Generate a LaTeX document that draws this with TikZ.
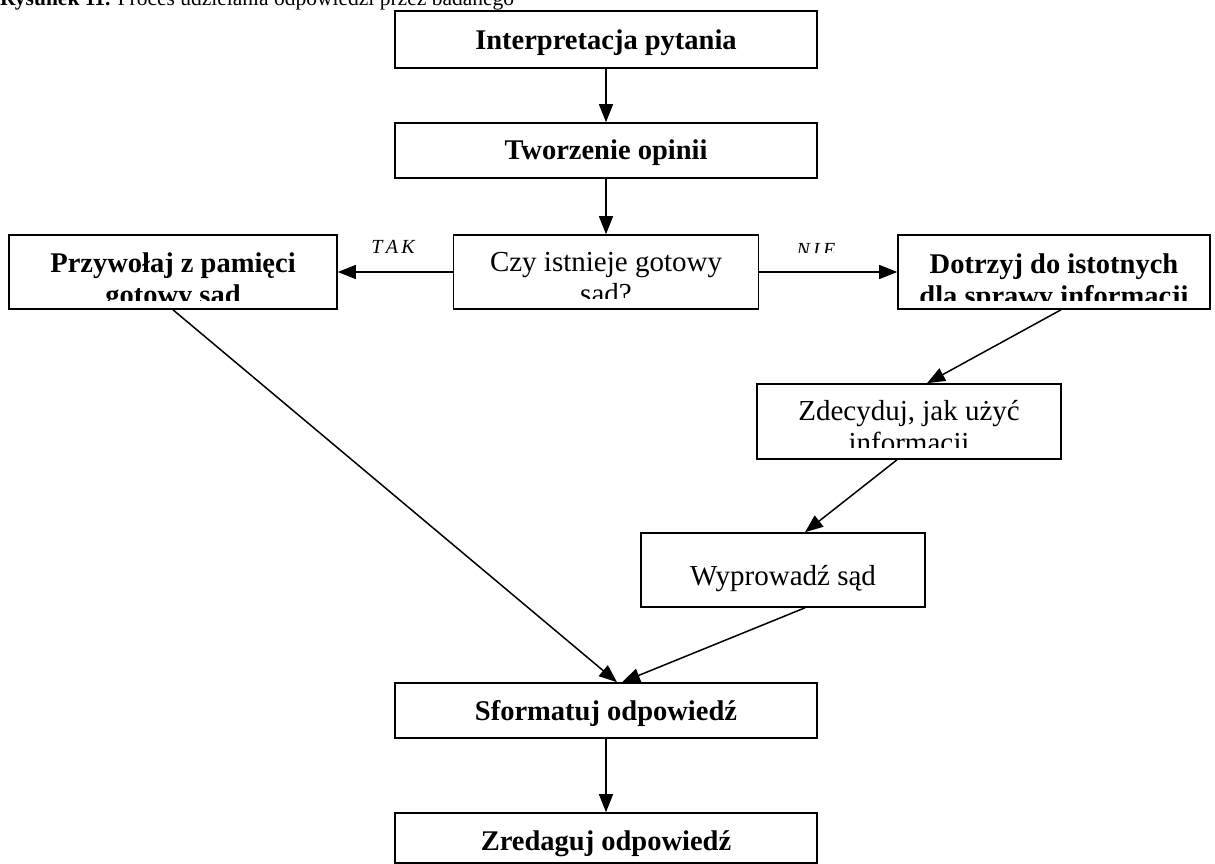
\documentclass[tikz,border=0pt]{standalone}
\usepackage{fontspec}
\setmainfont{Liberation Serif}
\usetikzlibrary{arrows.meta,calc}
\tikzset{
  box/.style={draw, line width=1.6pt, rectangle, inner sep=0pt, fill=white},
  lbl/.style={inner sep=0pt, anchor=base, align=center},
  bigb/.style={lbl, font=\fontsize{28.5}{32}\selectfont\bfseries},
  bign/.style={lbl, font=\fontsize{29}{32}\selectfont},
  arr/.style={line width=1.5pt, -{Triangle[length=18pt,width=14pt]}},
  yn/.style={inner sep=0pt, anchor=base, font=\fontsize{20}{22}\selectfont\itshape}
}
\begin{document}
\begin{tikzpicture}[x=1pt,y=-1pt]
\clip (0,0) rectangle (1215,864);
\fill[white] (0,0) rectangle (1215,864);
% title
\node[inner sep=0pt, anchor=base west, font=\fontsize{21.5}{24}\selectfont] (title) at (0,6) {\textbf{Rysunek 11.} Proces udzielania odpowiedzi przez badanego};
% boxes
\node[box, minimum width=422pt, minimum height=57pt] (interp) at (606,39.5) {};
\node[box, minimum width=422pt, minimum height=55pt] (tworz) at (606,150.5) {};
\node[box, minimum width=305pt, minimum height=74pt] (czy) at (606,272) {};
\node[box, minimum width=328pt, minimum height=74pt] (przyw) at (173,272) {};
\node[box, minimum width=312pt, minimum height=74pt] (dotrz) at (1054,272) {};
\node[box, minimum width=304pt, minimum height=75pt] (zdec) at (909,421.5) {};
\node[box, minimum width=284pt, minimum height=74pt] (wypr) at (783,570) {};
\node[box, minimum width=422pt, minimum height=55pt] (sform) at (606,710.5) {};
\node[box, minimum width=422pt, minimum height=50pt] (zred) at (606,838) {};
% texts
\node[bigb] (tInterp) at (606,50) {Interpretacja pytania};
\node[bigb] (tTworz) at (606,159) {Tworzenie opinii};
\begin{scope}
\clip ($(czy.south west)+(8,-11)$) rectangle ($(czy.north east)+(-8,8)$);
\node[bign] (tCzy) at (606,303) {Czy istnieje gotowy\\sąd?};
\end{scope}
\begin{scope}
\clip ($(przyw.south west)+(8,-9)$) rectangle ($(przyw.north east)+(-8,8)$);
\node[bigb] (tPrzyw) at (173,304) {Przywołaj z pamięci\\gotowy sąd};
\end{scope}
\begin{scope}
\clip ($(dotrz.south west)+(8,-9)$) rectangle ($(dotrz.north east)+(-8,8)$);
\node[bigb] (tDotrz) at (1054,305) {Dotrzyj do istotnych\\dla sprawy informacji};
\end{scope}
\begin{scope}
\clip ($(zdec.south west)+(8,-12)$) rectangle ($(zdec.north east)+(-8,8)$);
\node[bign] (tZdec) at (909,452) {Zdecyduj, jak użyć\\informacji};
\end{scope}
\node[bign] (tWypr) at (783,585) {Wyprowadź sąd};
\node[bigb] (tSform) at (606,720) {Sformatuj odpowiedź};
\node[bigb] (tZred) at (606,850) {Zredaguj odpowiedź};
% yes / no labels
\node[yn] (tak) at (393,253) {T\,A\,K};
\begin{scope}
\clip (760,230) rectangle (860,252);
\node[yn] (nie) at (816,256) {N\,I\,E};
\end{scope}
% connectors
\draw[arr] (interp.south) -- (tworz.north);
\draw[arr] (tworz.south) -- (czy.north);
\draw[arr] (czy.west) -- (przyw.east);
\draw[arr] (czy.east) -- (dotrz.west);
\draw[arr] ([xshift=7pt]dotrz.south) -- ([xshift=18pt]zdec.north);
\draw[arr] ([xshift=-12pt]zdec.south) -- ([xshift=22pt]wypr.north);
\draw[arr] (przyw.south) -- ([xshift=11pt]sform.north);
\draw[arr] ([xshift=22pt]wypr.south) -- ([xshift=16pt]sform.north);
\draw[arr] (sform.south) -- (zred.north);
\end{tikzpicture}
\end{document}
